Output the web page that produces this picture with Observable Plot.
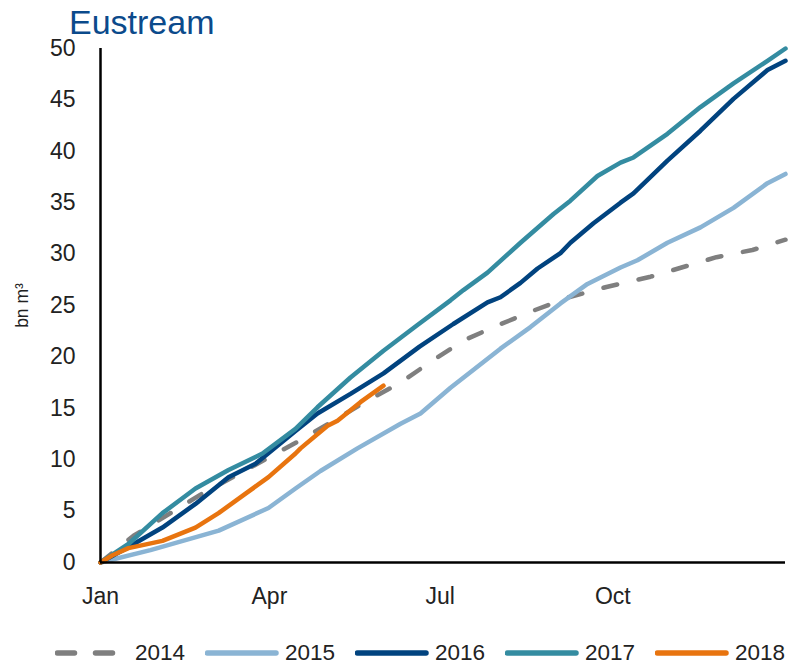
<!DOCTYPE html>
<html>
<head>
<meta charset="utf-8">
<script src="https://cdn.jsdelivr.net/npm/d3@7"></script>
<script src="https://cdn.jsdelivr.net/npm/@observablehq/plot@0.6"></script>
<style>
  html, body { margin: 0; padding: 0; background: #fff; overflow: hidden; }
  #wrap { position: relative; width: 788px; height: 667px; font-family: "Liberation Sans", Arial, sans-serif; }
  #title { position: absolute; left: 69px; top: 5px; font-size: 34px; color: #0b4a8b; line-height: 1; z-index: 2; }
  #legend { position: absolute; left: 0; top: 642px; width: 788px; height: 22px; }
  .item { position: absolute; top: 0; height: 22px; display: flex; align-items: center; font-size: 22.5px; line-height: 22px; color: #222; }
  .item svg { margin-right: 6px; }
</style>
</head>
<body>
<div id="wrap">
  <div id="title">Eustream</div>
  <div id="chart"></div>
  <div id="legend"></div>
</div>
<script>
// ---- data (day of year, bn m³ cumulative) ----
const years = ["2014", "2015", "2016", "2017", "2018"];
const colors = ["#7f7f7f", "#8ab4d4", "#01437f", "#348ca1", "#e8740f"];

const s2014 = [[0,0],[17.6,2.6],[53.3,6.6],[74.6,8.7],[89.5,10.2],[106.6,11.9],[142.8,15.8],[159.9,17.5],[175.8,19.5],[193.4,21.6],[212.1,23.1],[230.7,24.5],[249.4,25.8],[269.6,26.8],[293.1,27.8],[328.2,29.7],[347.4,30.4],[365,31.4]];
const s2015 = [[0,0],[26.6,1.2],[63,3.1],[89.5,5.3],[103.9,7.2],[117.2,8.9],[136.9,11.1],[159.9,13.5],[170.5,14.5],[186.5,17.0],[213.1,20.8],[229.1,22.9],[245.1,25.2],[259.5,27.1],[277.1,28.7],[286.1,29.4],[302.1,31.1],[319.7,32.6],[337.3,34.5],[355.4,36.9],[365,37.8]];
const s2016 = [[0,0],[14.9,1.5],[33,3.4],[50.6,5.7],[68.2,8.3],[82.6,9.6],[103.9,12.8],[115.6,14.5],[133.2,16.4],[150.8,18.4],[170,21.0],[188,23.2],[206.2,25.3],[213.1,25.8],[223.8,27.2],[232.9,28.6],[245.1,30.1],[250.4,31.1],[262.7,33.0],[277.1,35.0],[284,35.9],[302.1,39.1],[319.7,42.0],[337.3,45.1],[355.4,47.9],[365,48.8]];
const s2017 = [[0,0],[14.9,1.8],[33,4.8],[50.6,7.2],[68.2,9.0],[86.3,10.6],[103.9,13.0],[115.6,15.1],[133.2,18.0],[150.8,20.6],[168.9,23.1],[186.5,25.5],[193.4,26.5],[206.2,28.2],[223.8,31.1],[241.4,33.9],[250.4,35.2],[264.8,37.6],[277.1,38.9],[284,39.4],[302.1,41.7],[319.7,44.3],[337.3,46.6],[355.4,48.8],[365,50]];
const s2018 = [[0,0],[6.4,0.7],[14.9,1.4],[33,2.1],[50.6,3.4],[62.9,4.8],[77.3,6.7],[89.5,8.3],[103.9,10.6],[106.6,11.1],[121,13.3],[126.3,13.8],[138.5,15.6],[150.8,17.2]];

const monthTicks = [0, 90, 181, 273];
const monthLabels = ["Jan", "Apr", "Jul", "Oct"];
const yTicks = [0, 5, 10, 15, 20, 25, 30, 35, 40, 45, 50];
const yLabel = "bn m³";

const series = [s2014, s2015, s2016, s2017, s2018];
const dashes = ["14,22", null, null, null, null];

const rows = (s) => s.map(([day, value]) => ({day, value}));

const lineMarks = series.map((s, i) => Plot.line(rows(s), {
  x: "day", y: "value", stroke: colors[i], strokeWidth: 4.5,
  strokeDasharray: dashes[i] || undefined, strokeLinecap: "round", strokeLinejoin: "round"
}));

const chart = Plot.plot({
  width: 788,
  height: 620,
  marginLeft: 100,
  marginRight: 3,
  marginTop: 48,
  marginBottom: 58,
  style: { fontFamily: "'Liberation Sans', Arial, sans-serif", fontSize: "23px", color: "#222", background: "#fff", overflow: "visible" },
  x: { domain: [0, 365] },
  y: { domain: [0, 50] },
  marks: [
    Plot.axisY({ ticks: yTicks, tickSize: 0, tickPadding: 25, label: null, fontSize: 23 }),
    Plot.axisX({ ticks: monthTicks, tickSize: 0, tickPadding: 25, label: null, fontSize: 23,
      tickFormat: (d) => monthLabels[monthTicks.indexOf(d)] }),
    Plot.text([yLabel], { text: (d) => d, frameAnchor: "left", textAnchor: "middle", rotate: -90, dx: -78, fontSize: 17.5, fill: "#222" }),
    ...lineMarks,
    Plot.ruleX([0], { stroke: "#000", strokeWidth: 2.5 }),
    Plot.ruleY([0], { stroke: "#000", strokeWidth: 2.5 })
  ]
});
document.getElementById("chart").appendChild(chart);

// legend
const legendLefts = [55, 205, 355, 505, 655];
const legend = document.getElementById("legend");
years.forEach((yr, i) => {
  const item = document.createElement("div");
  item.className = "item";
  item.style.left = legendLefts[i] + "px";
  const ns = "http://www.w3.org/2000/svg";
  const sv = document.createElementNS(ns, "svg");
  sv.setAttribute("width", 74); sv.setAttribute("height", 10);
  const ln = document.createElementNS(ns, "line");
  ln.setAttribute("x1", 2.5); ln.setAttribute("x2", 71); ln.setAttribute("y1", 5); ln.setAttribute("y2", 5);
  ln.setAttribute("stroke", colors[i]); ln.setAttribute("stroke-width", 5.5); ln.setAttribute("stroke-linecap", "round");
  if (dashes[i]) { ln.setAttribute("stroke-dasharray", "17,21"); ln.setAttribute("x2", 62); }
  sv.appendChild(ln);
  item.appendChild(sv);
  const t = document.createElement("span");
  t.textContent = yr;
  item.appendChild(t);
  legend.appendChild(item);
});
</script>
</body>
</html>
